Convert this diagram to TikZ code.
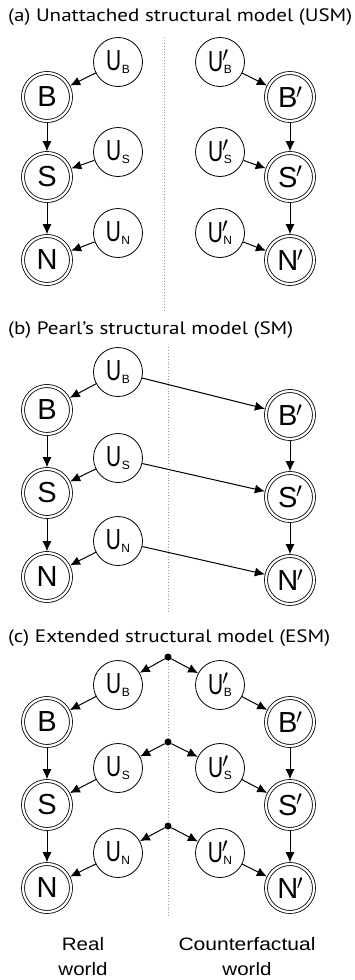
\documentclass[tikz,border=0pt]{standalone}
\usepackage{fontspec}
\usepackage{graphicx}
\setmainfont{Liberation Sans}
\newfontfamily\titlefont{PT Sans}
\usetikzlibrary{arrows.meta}
\newcommand\subf{\fontsize{12}{12}\selectfont}
\newcommand\myprime[1]{\raisebox{#1}{\normalsize\scalebox{2.1}{$\prime$}}}
\newcommand\narrowU{\scalebox{0.72}[1]{U}}
\newcommand\ulab[1]{\narrowU\kern0.5pt\raisebox{-2.5pt}{\subf #1}}
\newcommand\uplab[1]{\narrowU\rlap{\kern-1pt\myprime{9.5pt}}\kern0.5pt\raisebox{-2.5pt}{\subf #1}}
\newcommand\vplab[1]{#1\kern-1.5pt\myprime{9.5pt}}
\newcommand\ttltext[2]{\resizebox{#1}{\height}{#2}}
\tikzset{
  unode/.style={circle,draw,line width=0.8pt,minimum size=49pt,inner sep=0pt,
    font=\fontsize{29}{32}\selectfont},
  vnode/.style={circle,draw,double,double distance=2.2pt,line width=0.8pt,
    minimum size=48pt,inner sep=0pt,outer sep=1.8pt,font=\fontsize{29}{32}\selectfont},
  dotnode/.style={circle,fill,inner sep=0pt,minimum size=7pt},
  arr/.style={-{Latex[length=10pt,width=9pt]},line width=1pt},
  sep/.style={gray!80,dotted,line width=0.9pt},
  ttl/.style={anchor=west,inner sep=0pt,font=\titlefont\fontsize{18}{20}\selectfont},
  wlab/.style={align=center,inner sep=0pt,font=\fontsize{18}{25}\selectfont}
}
\begin{document}
\begin{tikzpicture}[x=1pt,y=-1pt]
\useasboundingbox (0,0) rectangle (355,980);
% ---------- (a)
\node[ttl] (ta) at (8,17) {\ttltext{344pt}{(a) Unattached structural model (USM)}};
\coordinate (sa1) at (164,37); \coordinate (sa2) at (164,312);
\draw[sep] (sa1) -- (sa2);
\node[unode] (aUB) at (118,62) {\ulab{B}};
\node[vnode] (aB) at (47,97) {B};
\node[unode] (aUS) at (118,152) {\ulab{S}};
\node[vnode] (aS) at (47,177) {S};
\node[unode] (aUN) at (118,233) {\ulab{N}};
\node[vnode] (aN) at (47,260) {N};
\node[unode] (aUBp) at (220,62) {\uplab{B}};
\node[vnode] (aBp) at (290,97) {\vplab{B}};
\node[unode] (aUSp) at (220,152) {\uplab{S}};
\node[vnode] (aSp) at (290,177) {\vplab{S}};
\node[unode] (aUNp) at (220,233) {\uplab{N}};
\node[vnode] (aNp) at (290,260) {\vplab{N}};
\draw[arr] (aUB) -- (aB);
\draw[arr] (aUS) -- (aS);
\draw[arr] (aUN) -- (aN);
\draw[arr] (aB) -- (aS);
\draw[arr] (aS) -- (aN);
\draw[arr] (aUBp) -- (aBp);
\draw[arr] (aUSp) -- (aSp);
\draw[arr] (aUNp) -- (aNp);
\draw[arr] (aBp) -- (aSp);
\draw[arr] (aSp) -- (aNp);
% ---------- (b)
\node[ttl] (tb) at (8,330) {\ttltext{285pt}{(b) Pearl’s structural model (SM)}};
\coordinate (sb1) at (168,347); \coordinate (sb2) at (168,612);
\draw[sep] (sb1) -- (sb2);
\node[unode] (bUB) at (118,372) {\ulab{B}};
\node[vnode] (bB) at (47,410) {B};
\node[unode] (bUS) at (118,458) {\ulab{S}};
\node[vnode] (bS) at (47,493) {S};
\node[unode] (bUN) at (118,541) {\ulab{N}};
\node[vnode] (bN) at (47,577) {N};
\node[vnode] (bBp) at (290,415) {\vplab{B}};
\node[vnode] (bSp) at (290,497) {\vplab{S}};
\node[vnode] (bNp) at (290,580) {\vplab{N}};
\draw[arr] (bUB) -- (bB);
\draw[arr] (bUS) -- (bS);
\draw[arr] (bUN) -- (bN);
\draw[arr] (bB) -- (bS);
\draw[arr] (bS) -- (bN);
\draw[arr] (bUB) -- (bBp);
\draw[arr] (bUS) -- (bSp);
\draw[arr] (bUN) -- (bNp);
\draw[arr] (bBp) -- (bSp);
\draw[arr] (bSp) -- (bNp);
% ---------- (c)
\node[ttl] (tc) at (8,638) {\ttltext{322pt}{(c) Extended structural model (ESM)}};
\coordinate (sc1) at (168,660); \coordinate (sc2) at (168,918);
\draw[sep] (sc1) -- (sc2);
\node[dotnode] (d1) at (168,657) {};
\node[dotnode] (d2) at (168,742) {};
\node[dotnode] (d3) at (168,826) {};
\node[unode] (cUB) at (118,685) {\ulab{B}};
\node[vnode] (cB) at (47,722) {B};
\node[unode] (cUS) at (118,768) {\ulab{S}};
\node[vnode] (cS) at (47,805) {S};
\node[unode] (cUN) at (118,853) {\ulab{N}};
\node[vnode] (cN) at (47,888) {N};
\node[unode] (cUBp) at (220,685) {\uplab{B}};
\node[vnode] (cBp) at (290,722) {\vplab{B}};
\node[unode] (cUSp) at (220,768) {\uplab{S}};
\node[vnode] (cSp) at (290,805) {\vplab{S}};
\node[unode] (cUNp) at (220,853) {\uplab{N}};
\node[vnode] (cNp) at (290,888) {\vplab{N}};
\draw[arr] (d1) -- (cUB);
\draw[arr] (d1) -- (cUBp);
\draw[arr] (d2) -- (cUS);
\draw[arr] (d2) -- (cUSp);
\draw[arr] (d3) -- (cUN);
\draw[arr] (d3) -- (cUNp);
\draw[arr] (cUB) -- (cB);
\draw[arr] (cUS) -- (cS);
\draw[arr] (cUN) -- (cN);
\draw[arr] (cB) -- (cS);
\draw[arr] (cS) -- (cN);
\draw[arr] (cUBp) -- (cBp);
\draw[arr] (cUSp) -- (cSp);
\draw[arr] (cUNp) -- (cNp);
\draw[arr] (cBp) -- (cSp);
\draw[arr] (cSp) -- (cNp);
\node[wlab] (real) at (83,957) {\scalebox{1.14}[1]{Real}\\\scalebox{1.14}[1]{world}};
\node[wlab] (cf) at (247,957) {\scalebox{1.17}[1]{Counterfactual}\\\scalebox{1.14}[1]{world}};
\end{tikzpicture}
\end{document}
